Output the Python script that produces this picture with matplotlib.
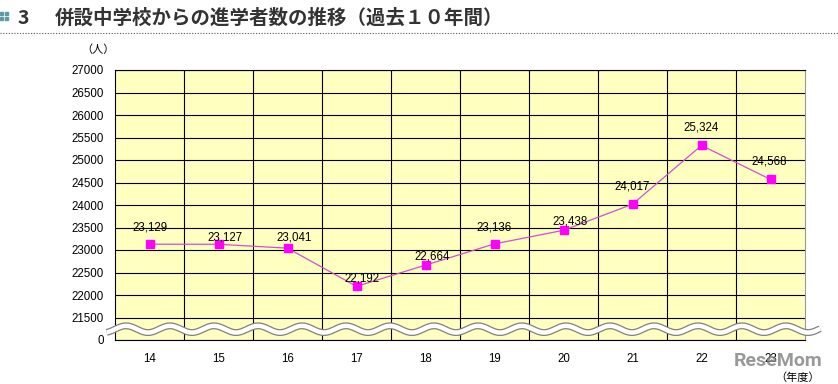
import numpy as np
import matplotlib.pyplot as plt
from matplotlib.transforms import blended_transform_factory

plt.rcParams['font.family'] = ['Liberation Sans', 'Noto Sans CJK JP', 'DejaVu Sans']

## the data
years = ['14', '15', '16', '17', '18', '19', '20', '21', '22', '23']
students = [23129, 23127, 23041, 22192, 22664, 23136, 23438, 24017, 25324, 24568]
ytick_vals = [21000, 21500, 22000, 22500, 23000, 23500, 24000, 24500,
              25000, 25500, 26000, 26500, 27000]
ytick_labels = ['0'] + [str(v) for v in ytick_vals[1:]]
# label offsets in points (dx, dy) from each marker
label_off = [(0, 12), (5, 5), (5, 8), (4, 6), (5, 6),
             (0, 12), (5, 6), (0, 13), (0, 13), (-1, 13)]

fig = plt.figure(figsize=(8.38, 3.84), dpi=100)
ax = fig.add_axes([115 / 838, 1 - 340 / 384, 690 / 838, 270 / 384])
ax.set_facecolor('#FFFFC0')

x = np.arange(len(years))
ax.plot(x, students, color='#D050D0', lw=0.9, marker='s', ms=5.5,
        mfc='#FF00FF', mec='#FF00FF', zorder=5)

for xi, v, (dx, dy) in zip(x, students, label_off):
    ax.annotate(f'{v:,}', (xi, v), xytext=(dx, dy), textcoords='offset points',
                ha='center', va='center', fontsize=8.3, zorder=6)

# axes and grid
ax.set_xlim(-0.5, len(years) - 0.5)
ax.set_ylim(21000, 27000)
ax.set_yticks(ytick_vals)
ax.set_yticklabels(ytick_labels, fontsize=8.3)
ax.set_xticks(x)
ax.set_xticklabels(years, fontsize=8.3)
ax.set_xticks(np.arange(0.5, len(years) - 0.5), minor=True)
ax.tick_params(axis='both', which='both', length=0)
ax.tick_params(axis='y', pad=8)
ax.tick_params(axis='x', pad=9)
ax.grid(axis='y', which='major', color='black', lw=0.8)
ax.grid(axis='x', which='minor', color='black', lw=0.8)
ax.set_axisbelow(True)
for s in ax.spines.values():
    s.set_color('black')
    s.set_linewidth(0.8)
ax.spines['right'].set_color('#999999')

# axis break (wavy band)
tr = blended_transform_factory(ax.transAxes, ax.transData)
wx = np.linspace(-0.012, 1.022, 600)
wy = 21240 + 75 * np.sin(wx * 690 / 44 * 2 * np.pi)
ax.plot(wx, wy, color='#808080', lw=5.0, transform=tr, clip_on=False, zorder=7,
        solid_capstyle='butt')
ax.plot(wx, wy, color='white', lw=3.2, transform=tr, clip_on=False, zorder=8,
        solid_capstyle='butt')

# title
fig.text(55 / 838, 1 - 18 / 384, '併設中学校からの進学者数の推移（過去１０年間）',
         fontsize=14, fontweight='bold', color='#333333', va='center',
         family=['Noto Sans CJK JP'])
fig.text(18 / 838, 1 - 18 / 384, '3', fontsize=14, fontweight='bold',
         color='#333333', va='center', family=['Noto Sans CJK JP'])
for dx in (0, 5):
    for dy in (12, 17):
        fig.patches.append(plt.Rectangle((dx / 838, 1 - (dy + 3) / 384), 3 / 838, 3 / 384,
                                         transform=fig.transFigure, color='#5A9AA8'))
fig.add_artist(plt.Line2D([0, 1], [1 - 33 / 384] * 2, color='#555555', lw=0.8,
                          ls=(0, (1, 1.5)), transform=fig.transFigure))

fig.text(98 / 838, 1 - 50 / 384, '（人）', fontsize=8, ha='center', va='center',
         family=['Noto Sans CJK JP'])
fig.text(798 / 838, 1 - 378 / 384, '（年度）', fontsize=8, ha='center', va='center',
         family=['Noto Sans CJK JP'])
fig.text(778 / 838, 1 - 361 / 384, 'ReseMom', fontsize=14, fontweight='bold',
         color='#808080', ha='center', va='center', alpha=0.8,
         family=['Roboto', 'DejaVu Sans'])

fig.savefig('out.png', dpi=100)
